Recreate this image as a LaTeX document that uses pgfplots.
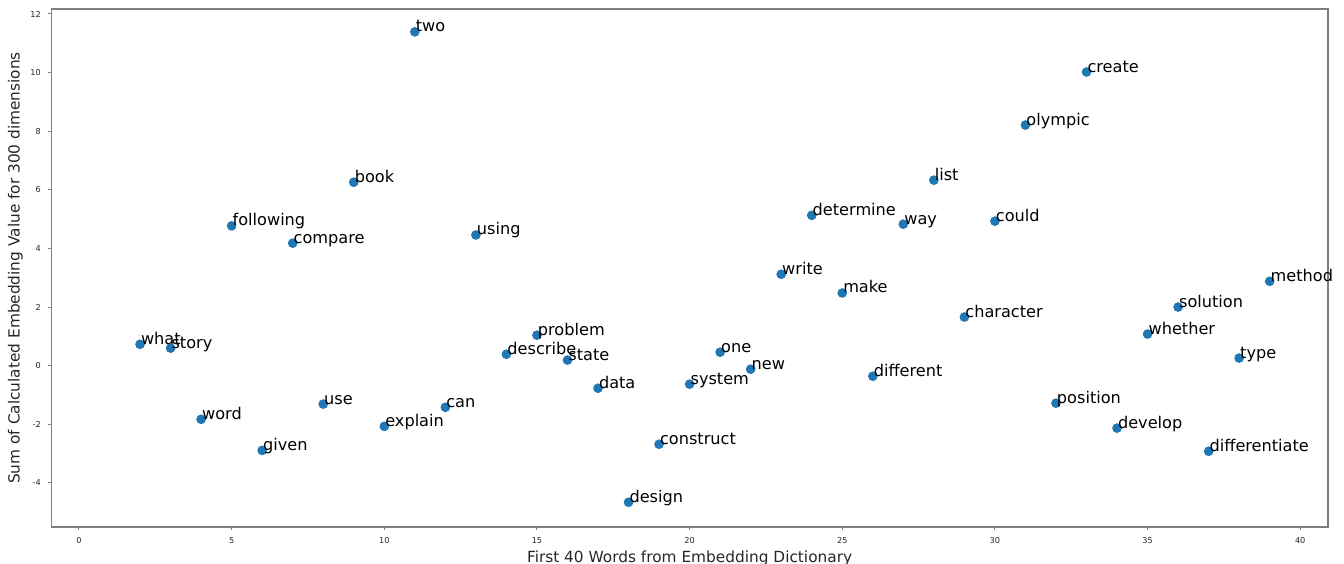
\documentclass[border=0pt]{standalone}
\usepackage{pgfplots}
\pgfplotsset{compat=1.18}
\usetikzlibrary{calc}
\usepackage{fontspec}
\setmainfont{DejaVu Sans}
\definecolor{mplblue}{HTML}{1F77B4}
\definecolor{spine}{HTML}{7F7F7F}
\definecolor{txt}{HTML}{262626}
\begin{document}
\begin{tikzpicture}
\begin{axis}[
  name=ax,
  scale only axis,
  width=638bp, height=258.9bp,
  xmin=-0.9, xmax=40.9,
  ymin=-5.5, ymax=12.17,
  xtick={0,5,...,40},
  ytick={-4,-2,...,12},
  axis line style={spine, line width=0.8pt},
  tick align=outside,
  major tick length=1.8bp,
  tick style={spine, line width=0.5pt},
  xtick pos=bottom, ytick pos=left,
  tick label style={font=\fontsize{4.1}{5}\selectfont, text=txt},
  /pgf/number format/assume math mode=true,
  xlabel={First 40 Words from Embedding Dictionary},
  ylabel={Sum of Calculated Embedding Value for 300 dimensions},
  label style={font=\fontsize{7.7}{9}\selectfont, text=txt},
  xlabel style={yshift=3.5bp},
  ylabel style={yshift=-3bp},
  clip=false,
]
\addplot[only marks, mark=*, mark size=2.2bp, color=mplblue,
  nodes near coords, point meta=explicit symbolic,
  every node near coord/.append style={anchor=base west, inner sep=0pt, xshift=0.3bp, text=black, font=\fontsize{8.1}{10}\selectfont}]
table[meta=label] {
x y label
2 0.73 what
3 0.60 story
4 -1.83 word
5 4.77 following
6 -2.89 given
7 4.18 compare
8 -1.31 use
9 6.26 book
10 -2.07 explain
11 11.39 two
12 -1.42 can
13 4.46 using
14 0.39 describe
15 1.04 problem
16 0.19 state
17 -0.77 data
18 -4.66 design
19 -2.68 construct
20 -0.63 system
21 0.46 one
22 -0.12 new
23 3.12 write
24 5.13 determine
25 2.48 make
26 -0.36 different
27 4.83 way
28 6.33 list
29 1.66 character
30 4.93 could
31 8.21 olympic
32 -1.28 position
33 10.02 create
34 -2.13 develop
35 1.08 whether
36 2.00 solution
37 -2.92 differentiate
38 0.26 type
39 2.88 method
};
\end{axis}
\pgfresetboundingbox
\path[use as bounding box] ($(ax.south west)+(-25.75bp,-18.15bp)$) rectangle ($(ax.south west)+(646.15bp,263.4bp)$);
\end{tikzpicture}
\end{document}
